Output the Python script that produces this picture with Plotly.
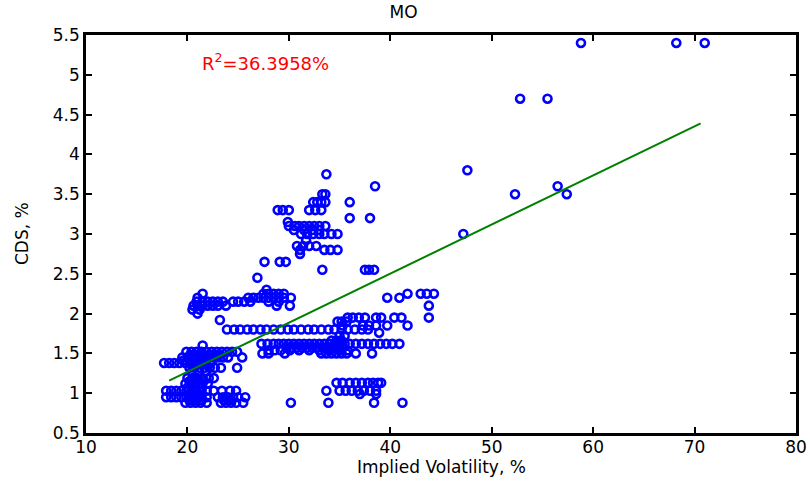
import plotly.graph_objects as go

# CDS level (%) and the implied-volatility values (%) observed at that level
cds_levels = [5.4, 4.7, 3.8, 3.75, 3.6, 3.5, 3.4, 3.3, 3.2, 3.15, 3.1, 3.05, 3.0, 2.92, 2.85, 2.8,
              2.75, 2.65, 2.55, 2.45, 2.3, 2.25, 2.2, 2.15, 2.1, 2.05, 2.0, 1.95, 1.92, 1.9, 1.85,
              1.8, 1.76, 1.72, 1.66, 1.62, 1.57, 1.54, 1.5, 1.6, 1.52, 1.48, 1.45, 1.41, 1.38,
              1.32, 1.27, 1.19, 1.15, 1.12, 1.07, 1.03, 1.13, 0.99, 0.95, 0.91, 0.88]
iv_at_level = [
    [58.8, 68.2, 71.0],
    [52.8, 55.5],
    [47.6],
    [33.7],
    [38.5, 56.5],
    [33.3, 33.6, 52.3, 57.4],
    [32.4, 32.8, 33.2, 33.6, 36.0],
    [28.9, 29.4, 30.0, 32.0, 32.6, 33.2],
    [36.0, 38.0],
    [29.9],
    [30.0, 30.6, 31.0, 31.5, 32.0, 32.5, 33.0, 33.6],
    [30.5, 31.5, 32.3, 33.0],
    [31.2, 31.8, 32.4, 33.0, 33.5, 34.2, 34.8, 47.2],
    [31.7],
    [30.8, 31.4, 32.0, 32.7],
    [31.1, 33.5, 34.1, 34.8],
    [31.1],
    [27.6, 29.1, 29.7],
    [33.3, 37.5, 37.9, 38.4],
    [26.9],
    [27.8],
    [21.5, 27.5, 28.0, 28.5, 29.0, 29.5, 41.7, 43.0, 43.6, 44.3],
    [21.0, 26.0, 26.5, 27.0, 27.5, 28.0, 28.5, 29.0, 29.5, 30.2, 39.7, 40.9],
    [20.9, 21.5, 22.0, 22.5, 23.0, 23.5, 24.5, 25.0, 25.6, 26.2, 28.0, 29.0],
    [20.6, 21.0, 21.5, 22.0, 22.5, 23.0, 23.8, 28.8, 30.1, 43.8],
    [20.5, 21.2],
    [21.0],
    [35.8, 36.3, 36.9, 37.5, 38.6, 39.1, 40.4, 41.1, 43.8],
    [23.2],
    [34.8, 35.2, 35.7],
    [35.3, 37.3, 37.9, 38.6, 39.7, 41.7],
    [23.9, 24.6, 25.2, 25.9, 26.5, 27.2, 27.8, 28.5, 29.2, 29.9, 30.5, 31.2, 31.9, 32.5,
     33.2, 33.9, 34.5, 35.2, 35.8, 36.5, 37.2, 37.8],
    [38.9],
    [35.0, 35.5],
    [34.2, 34.7, 35.2],
    [27.3, 27.9, 28.5, 29.0, 29.5, 30.0, 30.5, 31.0, 31.5, 32.0, 32.5, 33.0, 33.5, 34.0,
     34.5, 35.0, 35.5, 36.0, 36.6, 37.2, 37.8, 38.4, 39.0, 39.6, 40.2, 40.9],
    [29.8, 30.3, 30.8, 31.3, 31.8, 32.3, 32.8, 33.3, 33.8, 34.3, 34.8, 35.3],
    [28.0, 28.6, 29.2, 30.1, 31.0, 32.0, 33.0, 34.0, 35.0, 35.8],
    [27.4, 28.0, 29.6, 33.2, 33.7, 34.2, 34.7, 35.2, 35.7, 36.6, 38.2],
    [21.5],
    [19.9, 20.4, 20.9, 21.4, 21.9, 22.4, 22.9, 23.4, 23.9, 24.4, 24.9],
    [20.3, 20.9, 21.6, 22.3, 23.0],
    [19.5, 20.0, 20.5, 21.0, 21.5, 22.0, 22.5, 23.0, 23.5, 24.0, 25.4],
    [19.6, 20.3, 21.0, 21.7, 22.4],
    [17.7, 18.2, 18.7, 19.2, 19.8, 20.3, 20.8, 21.3, 21.8, 22.3],
    [20.2, 20.7, 21.2, 21.7, 22.2, 22.7, 23.3, 24.9],
    [20.4, 21.1, 21.8],
    [20.0, 20.5, 21.0, 21.5, 22.1, 22.6],
    [20.2, 20.9, 21.6],
    [19.8, 20.3, 20.8, 21.4, 22.0],
    [20.0, 20.7, 21.4],
    [17.9, 18.4, 18.9, 19.4, 19.9, 20.4, 20.9, 21.4, 21.9, 22.6, 23.4, 24.2, 24.8,
     33.7, 35.0, 35.6, 36.2, 36.8, 37.4, 38.0, 38.6],
    [34.7, 35.3, 36.0, 36.6, 37.2, 37.8, 38.3, 38.8, 39.1],
    [37.0, 38.6],
    [17.9, 18.4, 18.9, 19.4, 19.9, 20.4, 20.9, 21.4, 21.9, 23.0, 23.5, 24.0, 24.5, 25.0, 25.7],
    [20.2, 20.8, 21.4, 23.6, 24.2],
    [19.8, 20.3, 20.8, 21.3, 21.9, 23.3, 23.8, 24.3, 24.8, 25.5, 30.2, 33.9, 38.4, 41.2],
]

# regression line end points
fit_iv = [18.2, 70.6]
fit_cds = [1.157, 4.39]
r2_text = "R<sup>2</sup>=36.3958%"
title_text = "MO"
x_title = "Implied Volatility, %"
y_title = "CDS, %"

x_ticks = [10, 20, 30, 40, 50, 60, 70, 80]
y_ticks = [0.5, 1, 1.5, 2, 2.5, 3, 3.5, 4, 4.5, 5, 5.5]
y_tick_text = ["0.5", "1", "1.5", "2", "2.5", "3", "3.5", "4", "4.5", "5", "5.5"]

xs, ys = [], []
for lvl, vals in zip(cds_levels, iv_at_level):
    for v in vals:
        xs.append(v)
        ys.append(lvl)

font = "DejaVu Sans, Arial, sans-serif"
fs = 17
fig = go.Figure()
fig.add_trace(go.Scatter(x=xs, y=ys, mode="markers",
                         marker=dict(symbol="circle-open", size=8, color="#0000ff",
                                     line=dict(width=2.6, color="#0000ff")),
                         cliponaxis=False, showlegend=False))
fig.add_trace(go.Scatter(x=fit_iv, y=fit_cds, mode="lines",
                         line=dict(color="#008000", width=2), showlegend=False))

fig.add_annotation(x=21.2, y=5.16, xref="x", yref="y", text=r2_text, showarrow=False,
                   xanchor="left", yanchor="middle", font=dict(color="#ff0000", size=18, family=font))
# axis titles placed as annotations (paper coords)
fig.add_annotation(x=0.5, y=0, xref="paper", yref="paper", yshift=-34, text=x_title,
                   showarrow=False, xanchor="center", yanchor="middle",
                   font=dict(color="black", size=fs, family=font))
fig.add_annotation(x=0, y=0.5, xref="paper", yref="paper", xshift=-64, text=y_title,
                   textangle=-90, showarrow=False, xanchor="center", yanchor="middle",
                   font=dict(color="black", size=fs, family=font))

axis_common = dict(showline=True, linecolor="black", linewidth=2.5, mirror="ticks",
                   ticks="inside", ticklen=6, tickwidth=2, tickcolor="black", automargin=False,
                   ticklabeloverflow="allow",
                   showgrid=False, zeroline=False, tickfont=dict(size=fs, color="black", family=font))
fig.update_xaxes(range=[10, 80], tickvals=x_ticks, ticktext=[str(t) for t in x_ticks],
                 ticklabelstandoff=-3, **axis_common)
fig.update_yaxes(range=[0.5, 5.5], tickvals=y_ticks, ticktext=y_tick_text, **axis_common)
fig.update_layout(width=807, height=478, margin=dict(l=86, r=11, t=35, b=45),
                  plot_bgcolor="white", paper_bgcolor="white",
                  title=dict(text=title_text, x=0.5, xanchor="center", y=0.975, yanchor="middle",
                             font=dict(size=fs, color="black", family=font)),
                  font=dict(family=font))
fig.write_html("out.html")
